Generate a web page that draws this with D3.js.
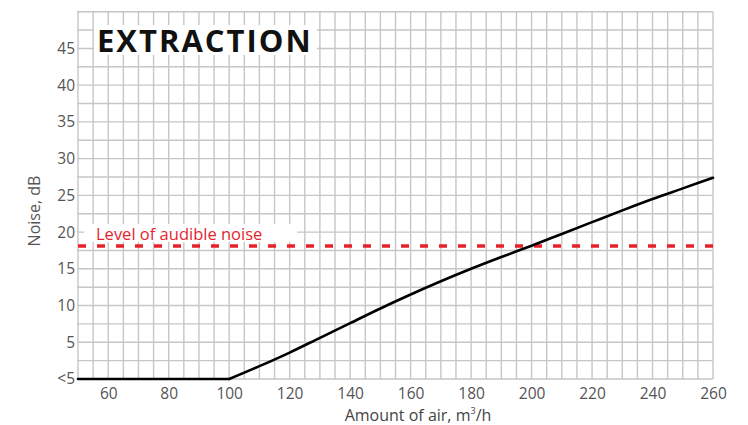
<!DOCTYPE html>
<html>
<head>
<meta charset="utf-8">
<script src="https://cdn.jsdelivr.net/npm/d3@7"></script>
<style>
  html, body { margin: 0; padding: 0; background: #fff; }
  svg { display: block; font-family: "Open Sans", sans-serif; }
</style>
</head>
<body>
<svg id="chart" width="748" height="425"></svg>
<script>
// ---- data ----
const airflow = [50, 100, 110, 120, 130, 140, 150, 160, 170, 180, 190, 200, 210, 220, 230, 240, 250, 260];
const noise   = [0, 0, 1.75, 3.6, 5.6, 7.6, 9.6, 11.5, 13.3, 15.0, 16.6, 18.15, 19.75, 21.35, 22.95, 24.5, 25.95, 27.4];
const xTicks = [60, 80, 100, 120, 140, 160, 180, 200, 220, 240, 260];
const yTicks = [0, 5, 10, 15, 20, 25, 30, 35, 40, 45];
const yTickLabels = ["<5", "5", "10", "15", "20", "25", "30", "35", "40", "45"];
const audibleLevel = 18.1;
const audibleLabel = "Level of audible noise";
const chartTitle = "EXTRACTION";
const xTitle = "Amount of air, m";
const yTitle = "Noise, dB";

// ---- layout ----
const L = 78, R = 713, T = 11.7, B = 379;
const svg = d3.select("#chart");
const x = d3.scaleLinear().domain([50, 260]).range([L, R]);
const y = d3.scaleLinear().domain([0, 50]).range([B, T]);

const gridColor = "#c6c6c6";

// grid
const g = svg.append("g");
g.selectAll("line.v").data(d3.range(50, 260.1, 5)).enter().append("line")
  .attr("x1", d => x(d)).attr("x2", d => x(d))
  .attr("y1", T).attr("y2", B)
  .attr("stroke", gridColor).attr("stroke-width", 1.4);
g.selectAll("line.h").data(d3.range(0, 50.1, 2.5)).enter().append("line")
  .attr("x1", L - 1).attr("x2", R)
  .attr("y1", d => y(d)).attr("y2", d => y(d))
  .attr("stroke", gridColor).attr("stroke-width", 1.4);

// axes (labels only)
const xAxis = d3.axisBottom(x).tickValues(xTicks).tickSize(0).tickPadding(9);
const xa = svg.append("g").attr("transform", `translate(0,${B})`).call(xAxis);
xa.select(".domain").remove();
xa.selectAll("text").attr("fill", "#555").style("font-size", "15.5px")
  .style("font-family", "'Open Sans', sans-serif");

const yAxis = d3.axisLeft(y).tickValues(yTicks).tickSize(0).tickPadding(3)
  .tickFormat((d, i) => yTickLabels[i]);
const ya = svg.append("g").attr("transform", `translate(${L},0)`).call(yAxis);
ya.select(".domain").remove();
ya.selectAll("text").attr("fill", "#555").style("font-size", "15.5px")
  .style("font-family", "'Open Sans', sans-serif");

// title box
svg.append("rect").attr("x", 94).attr("y", 25).attr("width", 223).attr("height", 30).attr("fill", "#fff");
svg.append("text").attr("x", 97).attr("y", 52)
  .attr("fill", "#111").style("font-size", "31px").style("font-weight", "700")
  .style("letter-spacing", "2px").text(chartTitle);

// audible noise line
svg.append("line")
  .attr("x1", x(50)).attr("x2", x(260))
  .attr("y1", y(audibleLevel)).attr("y2", y(audibleLevel))
  .attr("stroke", "#e8202a").attr("stroke-width", 3.6)
  .attr("stroke-dasharray", "8,11");

svg.append("rect").attr("x", 84).attr("y", 224).attr("width", 213).attr("height", 18).attr("fill", "#fff");
svg.append("text").attr("x", 96).attr("y", 240)
  .attr("fill", "#e2262e").style("font-size", "16.5px").text(audibleLabel);

// curve: flat part straight, rising part smooth
const pts = airflow.map((a, i) => [a, noise[i]]);
const lastZero = noise.lastIndexOf(0);
const flat = pts.slice(0, lastZero + 1);
const rising = pts.slice(lastZero);
const lineLin = d3.line().x(d => x(d[0])).y(d => y(d[1]));
const lineSmooth = d3.line().x(d => x(d[0])).y(d => y(d[1])).curve(d3.curveMonotoneX);
svg.append("path").datum(flat).attr("d", lineLin)
  .attr("fill", "none").attr("stroke", "#000").attr("stroke-width", 2.6).attr("stroke-linecap", "round");
svg.append("path").datum(rising).attr("d", lineSmooth)
  .attr("fill", "none").attr("stroke", "#000").attr("stroke-width", 2.6).attr("stroke-linecap", "round");

// axis titles
const xt = svg.append("text").attr("x", 418).attr("y", 421)
  .attr("text-anchor", "middle").attr("fill", "#444").style("font-size", "16px");
xt.append("tspan").text(xTitle);
xt.append("tspan").attr("dy", -7).style("font-size", "9px").text("3");
xt.append("tspan").attr("dy", 7).text("/h");

svg.append("text").attr("transform", "translate(40,211) rotate(-90)")
  .attr("text-anchor", "middle").attr("fill", "#555").style("font-size", "16px")
  .text(yTitle);
</script>
</body>
</html>
